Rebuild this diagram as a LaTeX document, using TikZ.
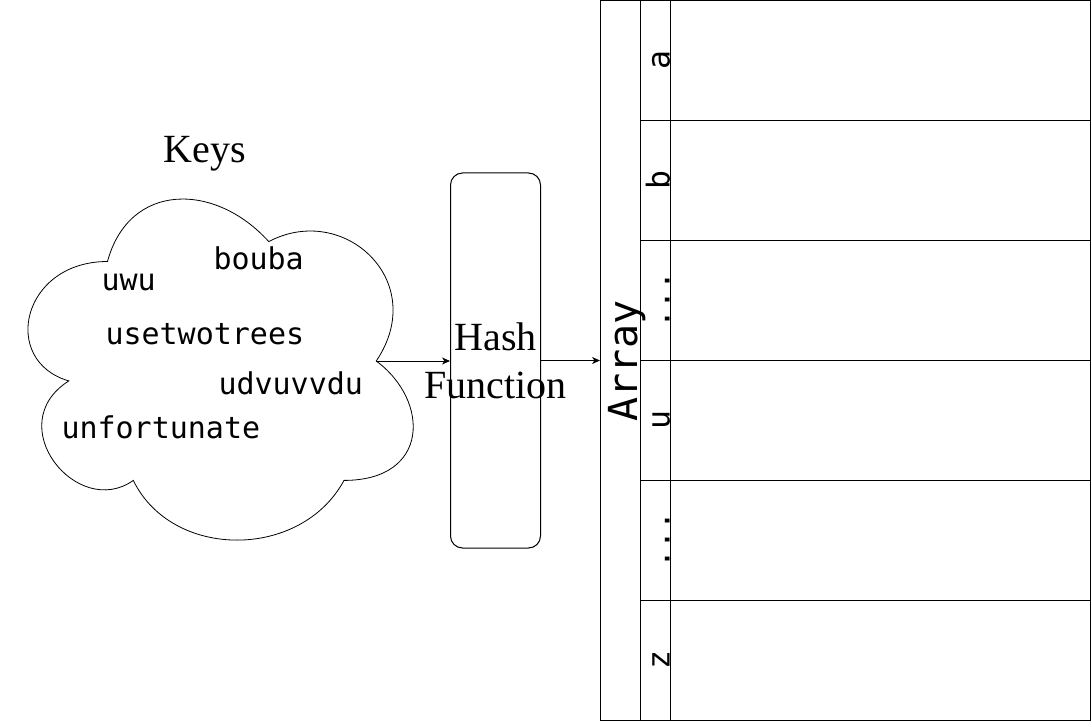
\documentclass[tikz,border=0pt]{standalone}
\usepackage{fontspec}
\setmainfont{Liberation Serif}
\newfontfamily\monofont{DejaVu Sans Mono}
\usetikzlibrary{arrows.meta}
\begin{document}
\begin{tikzpicture}[x=1pt,y=-1pt,line width=1pt,
  keytext/.style={anchor=base west,inner sep=0pt,font=\monofont\fontsize{30}{36}\selectfont},
  rowlabel/.style={rotate=90,anchor=base,inner sep=0pt,font=\monofont\fontsize{31.5}{36}\selectfont},
  serifbig/.style={font=\fontsize{40}{48}\selectfont},
  hashbox/.style={draw,rounded corners=12pt,minimum width=90pt,minimum height=375pt,inner sep=0pt},
  arraybox/.style={draw,minimum width=490pt,minimum height=720pt,inner sep=0pt},
  arr/.style={-{Stealth[length=8pt,width=7pt,inset=2.5pt]},line width=0.9pt}]
\useasboundingbox (0,0) rectangle (1092,722);

% cloud
\draw[line width=0.8pt] (107.5,261.5)
  .. controls (21.5,261.5) and (0,361) .. (68.8,380.9)
  .. controls (0,424.7) and (77.4,520.2) .. (133.3,480.4)
  .. controls (172,560) and (301,560) .. (344,480.4)
  .. controls (430,480.4) and (430,400.8) .. (376.25,361)
  .. controls (430,281.4) and (344,201.8) .. (268.75,241.6)
  .. controls (215,181.9) and (129,181.9) .. cycle;
\coordinate (cloudE) at (376.25,361);

\node[serifbig,anchor=base,inner sep=0pt] (keys) at (205,163) {Keys};
\node[keytext] (k1) at (213,269) {bouba};
\node[keytext] (k2) at (101,290) {uwu};
\node[keytext] (k3) at (105,344) {usetwotrees};
\node[keytext] (k4) at (218,394) {udvuvvdu};
\node[keytext] (k5) at (61,438) {unfortunate};

% hash function
\node[hashbox] (hash) at (495.5,360.5) {};
\node[serifbig,align=center,inner sep=0pt] (hashtxt) at (hash.center) {Hash\\Function};

% array
\node[arraybox] (array) at (845.5,360.5) {};
\draw (640.5,0.5) -- (640.5,720.5);
\draw (670.5,0.5) -- (670.5,720.5);
\foreach \yy in {120,240,360,480,600}
  \draw (640.5,\yy+0.5) -- (1090.5,\yy+0.5);

\node[rotate=90,anchor=base,inner sep=0pt,font=\monofont\fontsize{40}{46}\selectfont] (arrtitle) at (637,361) {Array};
\node[rowlabel] (la) at (669.5,60) {a};
\node[rowlabel] (lb) at (669.5,180) {b};
\node[rowlabel] (ld1) at (669.5,300) {...};
\node[rowlabel] (lu) at (669.5,420) {u};
\node[rowlabel] (ld2) at (669.5,540) {...};
\node[rowlabel] (lz) at (669.5,660) {z};

% connectors
\draw[arr] (cloudE) -- (hash.west |- cloudE);
\draw[arr] (hash.east) -- (array.west);
\end{tikzpicture}
\end{document}
